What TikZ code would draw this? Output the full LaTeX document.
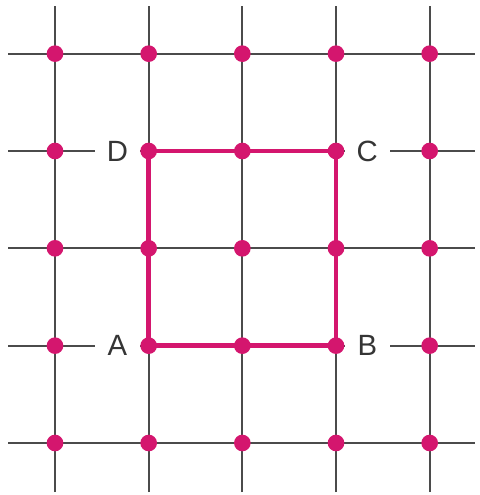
\documentclass[tikz,border=0pt]{standalone}
\usepackage{fontspec}
\setmainfont{Liberation Sans}
\usetikzlibrary{positioning}
\definecolor{gridpink}{RGB}{212,22,110}
\definecolor{gridgray}{RGB}{75,75,75}

\begin{document}
\begin{tikzpicture}[
    gridline/.style={draw=gridgray, line width=1.9pt},
    sideline/.style={draw=gridpink, line width=4pt},
    dot/.style={circle, fill=gridpink, minimum size=0.5cm, inner sep=0pt},
    corner/.style={fill=white, minimum width=1.35cm, inner sep=0pt,
        text=gridgray!70!black, font=\fontsize{25}{29}\selectfont}
]
\useasboundingbox (0,0) rectangle (14.37,14.85);

% lattice points and line ends
\foreach \i in {0,...,4} {
  \foreach \j in {0,...,4} {
    \coordinate (g-\i-\j) at ({1.65+2.81*\i},{1.56+2.92*\j});
  }
  \coordinate (w-\i) at (0.24,{1.56+2.92*\i});
  \coordinate (e-\i) at (14.25,{1.56+2.92*\i});
  \coordinate (s-\i) at ({1.65+2.81*\i},0.09);
  \coordinate (n-\i) at ({1.65+2.81*\i},14.67);
}

% grid lines
\foreach \i in {0,...,4} {
  \draw [gridline] (w-\i) -- (e-\i);
  \draw [gridline] (s-\i) -- (n-\i);
}

% square ABCD
\draw [sideline] (g-1-1) -- (g-3-1) -- (g-3-3) -- (g-1-3) -- cycle;

% dots
\foreach \i in {0,...,4}
  \foreach \j in {0,...,4}
    \node [dot] (p-\i-\j) at (g-\i-\j) {};

% corner labels
\node [corner, left=0pt of p-1-1] (A) {A};
\node [corner, right=0pt of p-3-1] (B) {B};
\node [corner, right=0pt of p-3-3] (C) {C};
\node [corner, left=0pt of p-1-3] (D) {D};

\end{tikzpicture}
\end{document}
